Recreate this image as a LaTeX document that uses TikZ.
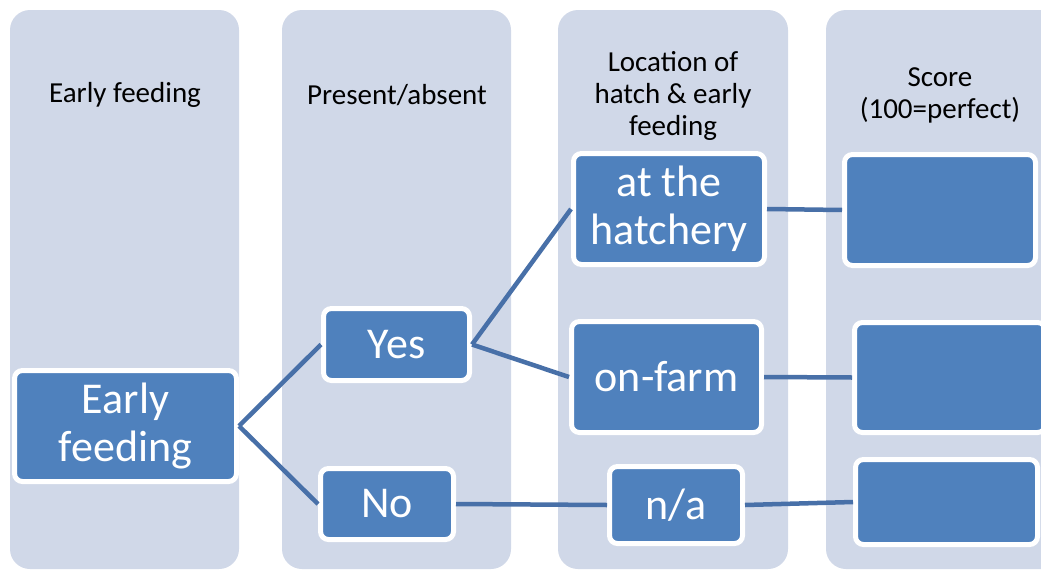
\documentclass[tikz,border=0pt]{standalone}
\usepackage{fontspec}
\setmainfont{Carlito}
\begin{document}
\begin{tikzpicture}[x=1pt,y=-1pt,
  column/.style={fill=colbg, rounded corners=20pt},
  header/.style={align=center, text=black, font=\fontsize{29}{32}\selectfont, inner sep=0pt},
  box/.style={fill=boxblue, draw=white, line width=5pt, rounded corners=8pt, align=center,
    text=white, font=\fontsize{44}{48}\selectfont, inner sep=0pt, anchor=center},
  link/.style={draw=linkblue, line width=4.5pt}]
\definecolor{colbg}{HTML}{D0D8E8}
\definecolor{boxblue}{HTML}{4F81BD}
\definecolor{linkblue}{HTML}{4870A8}
\clip (0,0) rectangle (1041,570);
\fill[white] (0,0) rectangle (1041,570);
% columns
\path[column] (10,10) rectangle (239,569);
\path[column] (282,10) rectangle (511,569);
\path[column] (558,10) rectangle (788,569);
\path[column] (826,10) rectangle (1070,569);
% headers
\node[header] (h1) at (125,95) {Early feeding};
\node[header] (h2) at (397,95) {Present/absent};
\node[header] (h3) at (673,96) {Location of\\hatch \& early\\feeding};
\node[header] (h4) at (940,95) {Score\\(100=perfect)};
% boxes
\node[box, minimum width=222pt, minimum height=111pt] (ef) at (125.5,426) {Early\\feeding};
\node[box, minimum width=146pt, minimum height=72pt] (yes) at (396.5,344.5) {Yes};
\node[box, minimum width=133pt, minimum height=71pt] (no) at (387,504) {No};
\node[box, minimum width=191pt, minimum height=111pt] (hat) at (669,209) {at the\\hatchery};
\node[box, minimum width=190pt, minimum height=111pt] (farm) at (666.5,377) {on-farm};
\node[box, minimum width=133pt, minimum height=77pt] (na) at (676,505) {n/a};
\node[box, minimum width=191pt, minimum height=111pt] (s1) at (940,210) {};
\node[box, minimum width=191pt, minimum height=110pt] (s2) at (950,377.5) {};
\node[box, minimum width=182pt, minimum height=85pt] (s3) at (946.5,502) {};
% connectors
\draw[link] (ef.east) -- (yes.west);
\draw[link] (ef.east) -- (no.west);
\draw[link] (yes.east) -- (hat.west);
\draw[link] (yes.east) -- (farm.west);
\draw[link] (no.east) -- (na.west);
\draw[link] (hat.east) -- (s1.west);
\draw[link] (farm.east) -- (s2.west);
\draw[link] (na.east) -- (s3.west);
\end{tikzpicture}
\end{document}
